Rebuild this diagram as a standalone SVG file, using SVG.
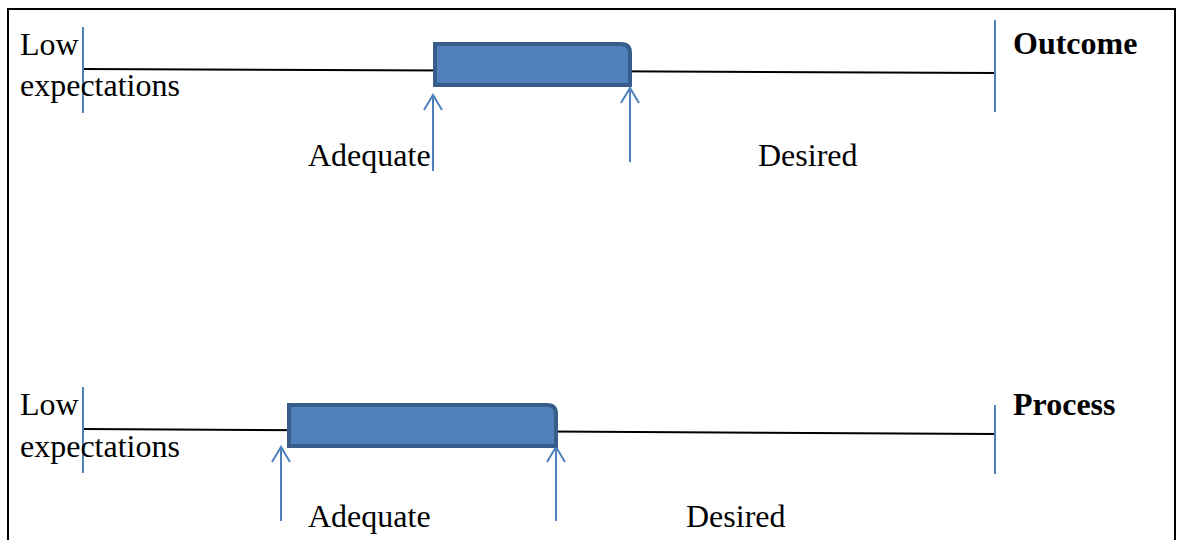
<svg xmlns="http://www.w3.org/2000/svg" width="1177" height="540" viewBox="0 0 1177 540">
<defs>
<marker id="open" viewBox="0 0 20 20" refX="18" refY="10" markerWidth="20" markerHeight="20" markerUnits="userSpaceOnUse" orient="auto">
<path d="M3,1 L18,10 L3,19" fill="none" stroke="#4F81BD" stroke-width="2"/>
</marker>
</defs>
<style>
.t{font-family:"Liberation Serif","Times New Roman",serif;font-size:32px;fill:#000}
.b{font-weight:bold}
.axis{stroke:#000;stroke-width:2;fill:none}
.tick{stroke:#4F81BD;stroke-width:2;fill:none}
.box{fill:#4F81BD;stroke:#385D8A;stroke-width:4}
.arr{stroke:#4F81BD;stroke-width:2;fill:none}
</style>
<rect x="8" y="9" width="1167" height="560" fill="#fff" stroke="#000" stroke-width="2"/>
<g id="connectors">
<line class="axis" x1="83" y1="69" x2="995" y2="73"/>
<line class="axis" x1="83" y1="429" x2="995" y2="434"/>
<line class="arr" x1="433" y1="171" x2="433" y2="95" marker-end="url(#open)"/>
<line class="arr" x1="630" y1="162" x2="630" y2="88" marker-end="url(#open)"/>
<line class="arr" x1="281" y1="521" x2="281" y2="447" marker-end="url(#open)"/>
<line class="arr" x1="556" y1="521" x2="556" y2="447" marker-end="url(#open)"/>
</g>
<g id="outcome-low"><line class="tick" x1="83" y1="27" x2="83" y2="113"/><text class="t" x="20" y="55">Low</text><text class="t" x="20" y="96">expectations</text></g>
<g id="outcome-bar"><path class="box" d="M435,44 H621 Q630,44 630,53 V85 H435 Z"/></g>
<g id="outcome-adequate"><text class="t" x="308" y="166">Adequate</text></g>
<g id="outcome-desired"><text class="t" x="758" y="166">Desired</text></g>
<g id="outcome-end"><line class="tick" x1="995" y1="20" x2="995" y2="112"/><text class="t b" x="1013" y="54">Outcome</text></g>
<g id="process-low"><line class="tick" x1="83" y1="387" x2="83" y2="473"/><text class="t" x="20" y="415">Low</text><text class="t" x="20" y="457">expectations</text></g>
<g id="process-bar"><path class="box" d="M289,405 H547 Q556,405 556,414 V446 H289 Z"/></g>
<g id="process-adequate"><text class="t" x="308" y="527">Adequate</text></g>
<g id="process-desired"><text class="t" x="686" y="527">Desired</text></g>
<g id="process-end"><line class="tick" x1="995" y1="405" x2="995" y2="474"/><text class="t b" x="1013" y="415">Process</text></g>
</svg>
